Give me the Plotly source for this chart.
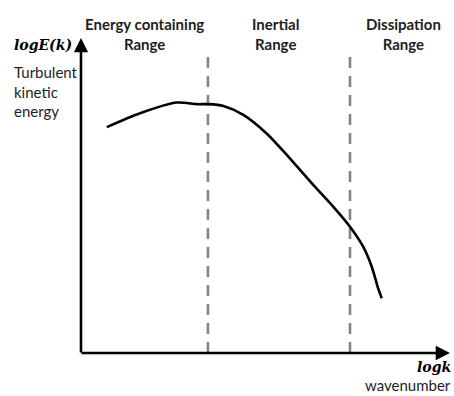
import plotly.graph_objects as go

# Schematic turbulent energy spectrum: log E(k) against log k
log_k = [0.70, 1.60, 2.59, 3.14, 3.45, 3.86, 4.40, 5.03, 5.66, 6.30,
         6.84, 7.29, 7.65, 7.88, 8.04, 8.15]
log_E = [7.17, 7.61, 7.95, 7.90, 7.90, 7.84, 7.56, 6.97, 6.18, 5.33,
         4.64, 4.01, 3.37, 2.74, 2.10, 1.74]

# Boundaries between the spectral ranges (in log k)
range_bounds = [3.44, 7.29]
bound_top = 9.62

# Range labels and their horizontal centres
range_labels = ["Energy containing<br>Range", "Inertial<br>Range", "Dissipation<br>Range"]
label_x = [1.73, 5.26, 8.75]

X_MAX = 10.0
Y_MAX = 10.0


def px(v):
    """Axis value -> paper fraction along x."""
    return v / X_MAX


def py(v):
    """Axis value -> paper fraction along y."""
    return v / Y_MAX


fig = go.Figure()

# Dashed separators between ranges
for xb in range_bounds:
    fig.add_trace(go.Scatter(
        x=[xb, xb], y=[0, bound_top], mode="lines",
        line=dict(color="#858585", width=2.6, dash="11px,8px"),
        hoverinfo="skip", showlegend=False))

# Spectrum curve
fig.add_trace(go.Scatter(
    x=log_k, y=log_E, mode="lines",
    line=dict(color="black", width=2.6, shape="spline", smoothing=0.8),
    hoverinfo="skip", showlegend=False))

annotations = []
# Axis arrows
annotations.append(dict(x=X_MAX, y=0, ax=-0.03, ay=0, xref="x", yref="y", axref="x", ayref="y",
                        text="", showarrow=True, arrowhead=2, arrowsize=1.1, arrowwidth=2.6,
                        arrowcolor="black"))
annotations.append(dict(x=0, y=Y_MAX, ax=0, ay=-0.03, xref="x", yref="y", axref="x", ayref="y",
                        text="", showarrow=True, arrowhead=2, arrowsize=1.1, arrowwidth=2.6,
                        arrowcolor="black"))

# Range titles
for lbl, lx in zip(range_labels, label_x):
    annotations.append(dict(x=px(lx), y=py(10.14), xref="paper", yref="paper", text=f"<b>{lbl}</b>",
                            showarrow=False, xanchor="center", yanchor="middle",
                            font=dict(family="Lato", size=15, color="#1e1e1e")))

# Axis titles
annotations.append(dict(x=px(-1.02), y=py(9.78), xref="paper", yref="paper",
                        text="<b><i>logE(k)</i></b>",
                        showarrow=False, xanchor="center", yanchor="middle",
                        font=dict(family="DejaVu Serif", size=14, color="black")))
annotations.append(dict(x=px(-1.87), y=py(8.29), xref="paper", yref="paper",
                        text="Turbulent<br>kinetic<br>energy", align="left",
                        showarrow=False, xanchor="left", yanchor="middle",
                        font=dict(family="Lato", size=15, color="#1e1e1e")))
annotations.append(dict(x=px(10.08), y=py(-0.44), xref="paper", yref="paper",
                        text="<b><i>logk</i></b>",
                        showarrow=False, xanchor="right", yanchor="middle",
                        font=dict(family="DejaVu Serif", size=14, color="black")))
annotations.append(dict(x=px(10.08), y=py(-1.02), xref="paper", yref="paper", text="wavenumber",
                        showarrow=False, xanchor="right", yanchor="middle",
                        font=dict(family="Lato", size=15, color="#1e1e1e")))

fig.update_layout(
    width=454, height=396,
    margin=dict(l=81, r=4, t=38, b=43),
    paper_bgcolor="white", plot_bgcolor="white",
    xaxis=dict(range=[0, X_MAX], visible=False, fixedrange=True),
    yaxis=dict(range=[0, Y_MAX], visible=False, fixedrange=True),
    annotations=annotations,
    showlegend=False,
)

fig.write_html("out.html", config=dict(displayModeBar=False))
